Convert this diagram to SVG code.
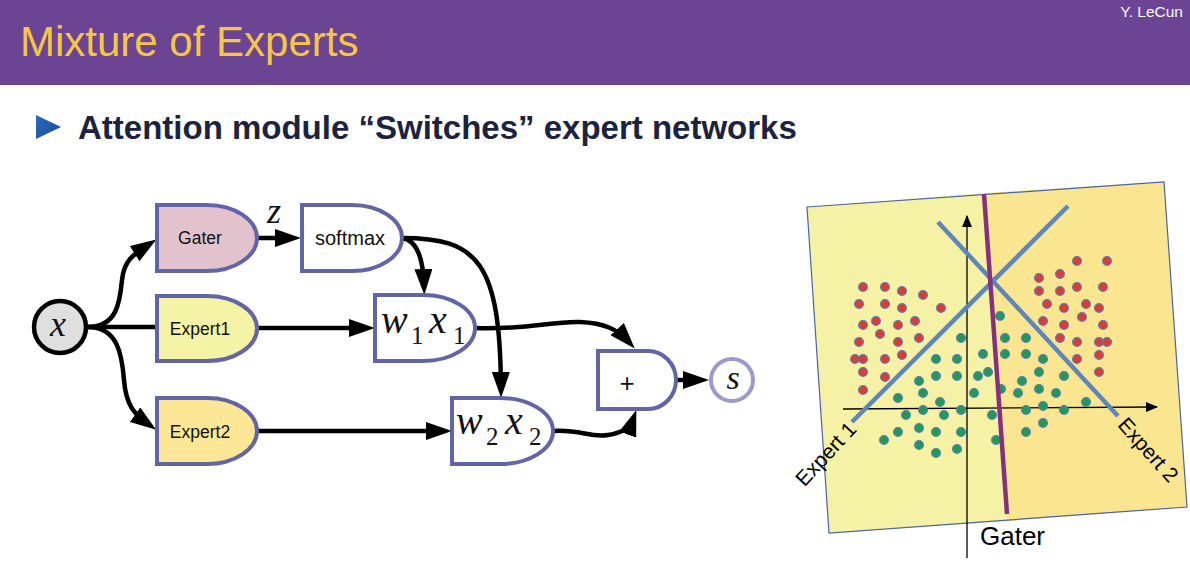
<svg xmlns="http://www.w3.org/2000/svg" width="1190" height="570" viewBox="0 0 1190 570">
<defs>
<style>
.node{stroke:#6264a8;stroke-width:4;}
.lbl{font-family:"Liberation Sans",Arial,sans-serif;font-size:17.5px;fill:#111;text-anchor:middle;}
.math{font-family:"Liberation Serif","Times New Roman",serif;font-style:italic;fill:#111;}
.sub{font-family:"Liberation Serif","Times New Roman",serif;font-style:normal;fill:#111;font-size:25px;}
.conn{fill:none;stroke:#000;stroke-width:4.5;}
.r{fill:#dc3c36;stroke:#5d7bb3;stroke-width:1.2;}
.g{fill:#1f9a58;stroke:#5d7bb3;stroke-width:1.2;}
.ex{stroke:#5f86b8;stroke-width:4.5;fill:none;}
.ax{stroke:#000;stroke-width:1.3;fill:none;}
.plt{font-family:"Liberation Sans",Arial,sans-serif;fill:#000;}
</style>
<marker id="ah" viewBox="0 0 26 18" refX="16" refY="9" markerWidth="26" markerHeight="18" markerUnits="userSpaceOnUse" orient="auto">
<path d="M0,0 L26,9 L0,18 Z" fill="#000"/>
</marker>
<marker id="axh" viewBox="0 0 12 10" refX="11" refY="5" markerWidth="12" markerHeight="10" markerUnits="userSpaceOnUse" orient="auto">
<path d="M0,0 L12,5 L0,10 Z" fill="#000"/>
</marker>
<linearGradient id="bul" x1="0" y1="0" x2="1" y2="1">
<stop offset="0" stop-color="#2a6cc0"/>
<stop offset="1" stop-color="#1d4a90"/>
</linearGradient>
</defs>

<g id="header">
<rect x="0" y="0" width="1190" height="85" fill="#6b4593"/>
<text x="20" y="56" font-family="Liberation Sans, Arial, sans-serif" font-size="42" fill="#f6c644">Mixture of Experts</text>
<text x="1183" y="17" font-family="Liberation Sans, Arial, sans-serif" font-size="15.5" fill="#ffffff" text-anchor="end">Y. LeCun</text>
</g>

<g id="heading">
<path d="M36,115 L61,127 L36,139 Z" fill="url(#bul)"/>
<text x="78" y="139" font-family="Liberation Sans, Arial, sans-serif" font-size="33" font-weight="bold" fill="#1b2340">Attention module “Switches” expert networks</text>
</g>

<g id="connectors">
<path class="conn" d="M88,327 H157"/>
<path class="conn" d="M88,327 C118,327 120,300 122,280 C124,260 134,254 148,245" marker-end="url(#ah)"/>
<path class="conn" d="M88,327 C118,327 122,355 124,380 C126,405 134,414 148,424" marker-end="url(#ah)"/>
<path class="conn" d="M257,238 H291" marker-end="url(#ah)"/>
<path class="conn" d="M402,238 C416,240 423,255 424,285" marker-end="url(#ah)"/>
<path class="conn" d="M402,238 C478,238 500,262 501,388" marker-end="url(#ah)"/>
<path class="conn" d="M257,328 H365" marker-end="url(#ah)"/>
<path class="conn" d="M257,431 H442" marker-end="url(#ah)"/>
<path class="conn" d="M475,328 C530,330 550,321 580,322 C605,323 618,330 628,341" marker-end="url(#ah)"/>
<path class="conn" d="M553,431 C580,429 590,438 608,435 C622,433 630,428 633,419.5" marker-end="url(#ah)"/>
<path class="conn" d="M676,380 H699" marker-end="url(#ah)"/>
</g>

<g id="node-x">
<circle cx="60" cy="327" r="26" fill="#e0dfe0" stroke="#000" stroke-width="4.5"/>
<text class="math" x="58" y="336" font-size="36" text-anchor="middle">x</text>
</g>

<g id="node-gater">
<path class="node" d="M157,205 H207 A50,33 0 0 1 207,271 H157 Z" fill="#e2c2cc"/>
<text class="lbl" x="200" y="244">Gater</text>
</g>

<g id="label-z">
<text class="math" x="274" y="223" font-size="36" text-anchor="middle">z</text>
</g>

<g id="node-softmax">
<path class="node" d="M302,205 H352 A50,33 0 0 1 352,271 H302 Z" fill="#ffffff"/>
<text class="lbl" x="350" y="245" style="font-size:20px">softmax</text>
</g>

<g id="node-expert1">
<path class="node" d="M157,296 H207 A50,32.5 0 0 1 207,361 H157 Z" fill="#f5f3a6"/>
<text class="lbl" x="200" y="335">Expert1</text>
</g>

<g id="node-expert2">
<path class="node" d="M157,398 H207 A50,33 0 0 1 207,464 H157 Z" fill="#fbe795"/>
<text class="lbl" x="200" y="438">Expert2</text>
</g>

<g id="node-w1x1">
<path class="node" d="M375,295 H423 A52,33 0 0 1 423,361 H375 Z" fill="#ffffff"/>
<text class="math" font-size="40"><tspan x="381" y="333">w</tspan><tspan class="sub" x="411" y="344">1</tspan><tspan x="429" y="333">x</tspan><tspan class="sub" x="453" y="344">1</tspan></text>
</g>

<g id="node-w2x2">
<path class="node" d="M452,398 H500 A53,33 0 0 1 500,464 H452 Z" fill="#ffffff"/>
<text class="math" font-size="40"><tspan x="456" y="434">w</tspan><tspan class="sub" x="486" y="445">2</tspan><tspan x="505" y="434">x</tspan><tspan class="sub" x="529" y="445">2</tspan></text>
</g>

<g id="node-plus">
<path class="node" d="M598,351 H648 A28,29 0 0 1 648,409 H598 Z" fill="#ffffff"/>
<text x="627" y="392" font-family="Liberation Sans, Arial, sans-serif" font-size="26" text-anchor="middle" fill="#111">+</text>
</g>

<g id="node-s">
<circle cx="732" cy="380" r="21" fill="#ffffff" stroke="#9a9acb" stroke-width="4"/>
<text class="math" x="733" y="389" font-size="34" text-anchor="middle">s</text>
</g>

<g id="plot">
<polygon points="807,207 985,193 1007,521 829,533" fill="#f6f2a5"/>
<polygon points="985,193 1164,182 1187,507 1007,521" fill="#fae690"/>
<polygon points="807,207 1164,182 1187,507 829,533" fill="none" stroke="#4a64a0" stroke-width="1.2"/>
<path class="ax" d="M967,558 V216" marker-end="url(#axh)"/>
<path class="ax" d="M843,409 L1157,407" marker-end="url(#axh)"/>
<g id="dots">
<circle class="r" cx="863" cy="287" r="4.4"/><circle class="r" cx="885" cy="287" r="4.4"/><circle class="r" cx="902" cy="291" r="4.4"/><circle class="r" cx="923" cy="295" r="4.4"/>
<circle class="r" cx="859" cy="304" r="4.4"/><circle class="r" cx="885" cy="304" r="4.4"/><circle class="r" cx="902" cy="308" r="4.4"/><circle class="r" cx="941" cy="308" r="4.4"/>
<circle class="r" cx="863" cy="325" r="4.4"/><circle class="r" cx="876" cy="321" r="4.4"/><circle class="r" cx="898" cy="325" r="4.4"/><circle class="r" cx="915" cy="321" r="4.4"/>
<circle class="r" cx="880" cy="334" r="4.4"/><circle class="r" cx="859" cy="342" r="4.4"/><circle class="r" cx="898" cy="342" r="4.4"/><circle class="r" cx="919" cy="338" r="4.4"/>
<circle class="r" cx="902" cy="355" r="4.4"/><circle class="r" cx="855" cy="359" r="4.4"/><circle class="r" cx="863" cy="359" r="4.4"/><circle class="r" cx="885" cy="359" r="4.4"/>
<circle class="r" cx="863" cy="372" r="4.4"/><circle class="r" cx="885" cy="377" r="4.4"/><circle class="r" cx="863" cy="390" r="4.4"/>
<circle class="r" cx="1077" cy="261" r="4.4"/><circle class="r" cx="1107" cy="261" r="4.4"/><circle class="r" cx="1039" cy="278" r="4.4"/><circle class="r" cx="1060" cy="274" r="4.4"/>
<circle class="r" cx="1039" cy="291" r="4.4"/><circle class="r" cx="1060" cy="291" r="4.4"/><circle class="r" cx="1077" cy="287" r="4.4"/><circle class="r" cx="1103" cy="287" r="4.4"/>
<circle class="r" cx="1047" cy="304" r="4.4"/><circle class="r" cx="1064" cy="308" r="4.4"/><circle class="r" cx="1086" cy="304" r="4.4"/><circle class="r" cx="1099" cy="308" r="4.4"/>
<circle class="r" cx="1043" cy="321" r="4.4"/><circle class="r" cx="1082" cy="317" r="4.4"/><circle class="r" cx="1064" cy="325" r="4.4"/><circle class="r" cx="1103" cy="325" r="4.4"/>
<circle class="r" cx="1060" cy="338" r="4.4"/><circle class="r" cx="1077" cy="342" r="4.4"/><circle class="r" cx="1099" cy="342" r="4.4"/><circle class="r" cx="1107" cy="342" r="4.4"/>
<circle class="r" cx="1099" cy="355" r="4.4"/><circle class="r" cx="1077" cy="359" r="4.4"/><circle class="r" cx="1099" cy="372" r="4.4"/>
<circle class="g" cx="961" cy="338" r="4.4"/><circle class="g" cx="936" cy="359" r="4.4"/><circle class="g" cx="957" cy="359" r="4.4"/><circle class="g" cx="936" cy="376" r="4.4"/>
<circle class="g" cx="957" cy="376" r="4.4"/><circle class="g" cx="919" cy="381" r="4.4"/><circle class="g" cx="978" cy="376" r="4.4"/><circle class="g" cx="923" cy="393" r="4.4"/>
<circle class="g" cx="898" cy="398" r="4.4"/><circle class="g" cx="940" cy="402" r="4.4"/><circle class="g" cx="974" cy="393" r="4.4"/><circle class="g" cx="906" cy="415" r="4.4"/>
<circle class="g" cx="923" cy="410" r="4.4"/><circle class="g" cx="944" cy="415" r="4.4"/><circle class="g" cx="961" cy="410" r="4.4"/><circle class="g" cx="898" cy="432" r="4.4"/>
<circle class="g" cx="919" cy="428" r="4.4"/><circle class="g" cx="936" cy="432" r="4.4"/><circle class="g" cx="961" cy="432" r="4.4"/><circle class="g" cx="884" cy="440" r="4.4"/>
<circle class="g" cx="919" cy="445" r="4.4"/><circle class="g" cx="936" cy="453" r="4.4"/><circle class="g" cx="957" cy="449" r="4.4"/>
<circle class="g" cx="1000" cy="316" r="4.4"/><circle class="g" cx="1005" cy="338" r="4.4"/><circle class="g" cx="1026" cy="338" r="4.4"/><circle class="g" cx="983" cy="354" r="4.4"/>
<circle class="g" cx="1005" cy="354" r="4.4"/><circle class="g" cx="1026" cy="354" r="4.4"/><circle class="g" cx="1043" cy="359" r="4.4"/><circle class="g" cx="988" cy="372" r="4.4"/>
<circle class="g" cx="1039" cy="372" r="4.4"/><circle class="g" cx="1022" cy="381" r="4.4"/><circle class="g" cx="1064" cy="376" r="4.4"/><circle class="g" cx="1001" cy="389" r="4.4"/>
<circle class="g" cx="1018" cy="393" r="4.4"/><circle class="g" cx="1039" cy="389" r="4.4"/><circle class="g" cx="1056" cy="393" r="4.4"/><circle class="g" cx="1086" cy="402" r="4.4"/>
<circle class="g" cx="992" cy="415" r="4.4"/><circle class="g" cx="1026" cy="410" r="4.4"/><circle class="g" cx="1043" cy="406" r="4.4"/><circle class="g" cx="1064" cy="410" r="4.4"/>
<circle class="g" cx="1043" cy="423" r="4.4"/><circle class="g" cx="1026" cy="432" r="4.4"/><circle class="g" cx="996" cy="440" r="4.4"/>
</g>
<line class="ex" x1="852" y1="422" x2="1068" y2="206"/>
<line class="ex" x1="938" y1="222" x2="1118" y2="416"/>
<line x1="984" y1="194" x2="1007" y2="514" stroke="#87317e" stroke-width="4.5"/>
<text class="plt" font-size="21" text-anchor="middle" transform="translate(826,454) rotate(-47)" y="7">Expert 1</text>
<text class="plt" font-size="21" text-anchor="middle" transform="translate(1148,450) rotate(48)" y="7">Expert 2</text>
<text class="plt" x="980" y="545" font-size="26">Gater</text>
</g>
</svg>
